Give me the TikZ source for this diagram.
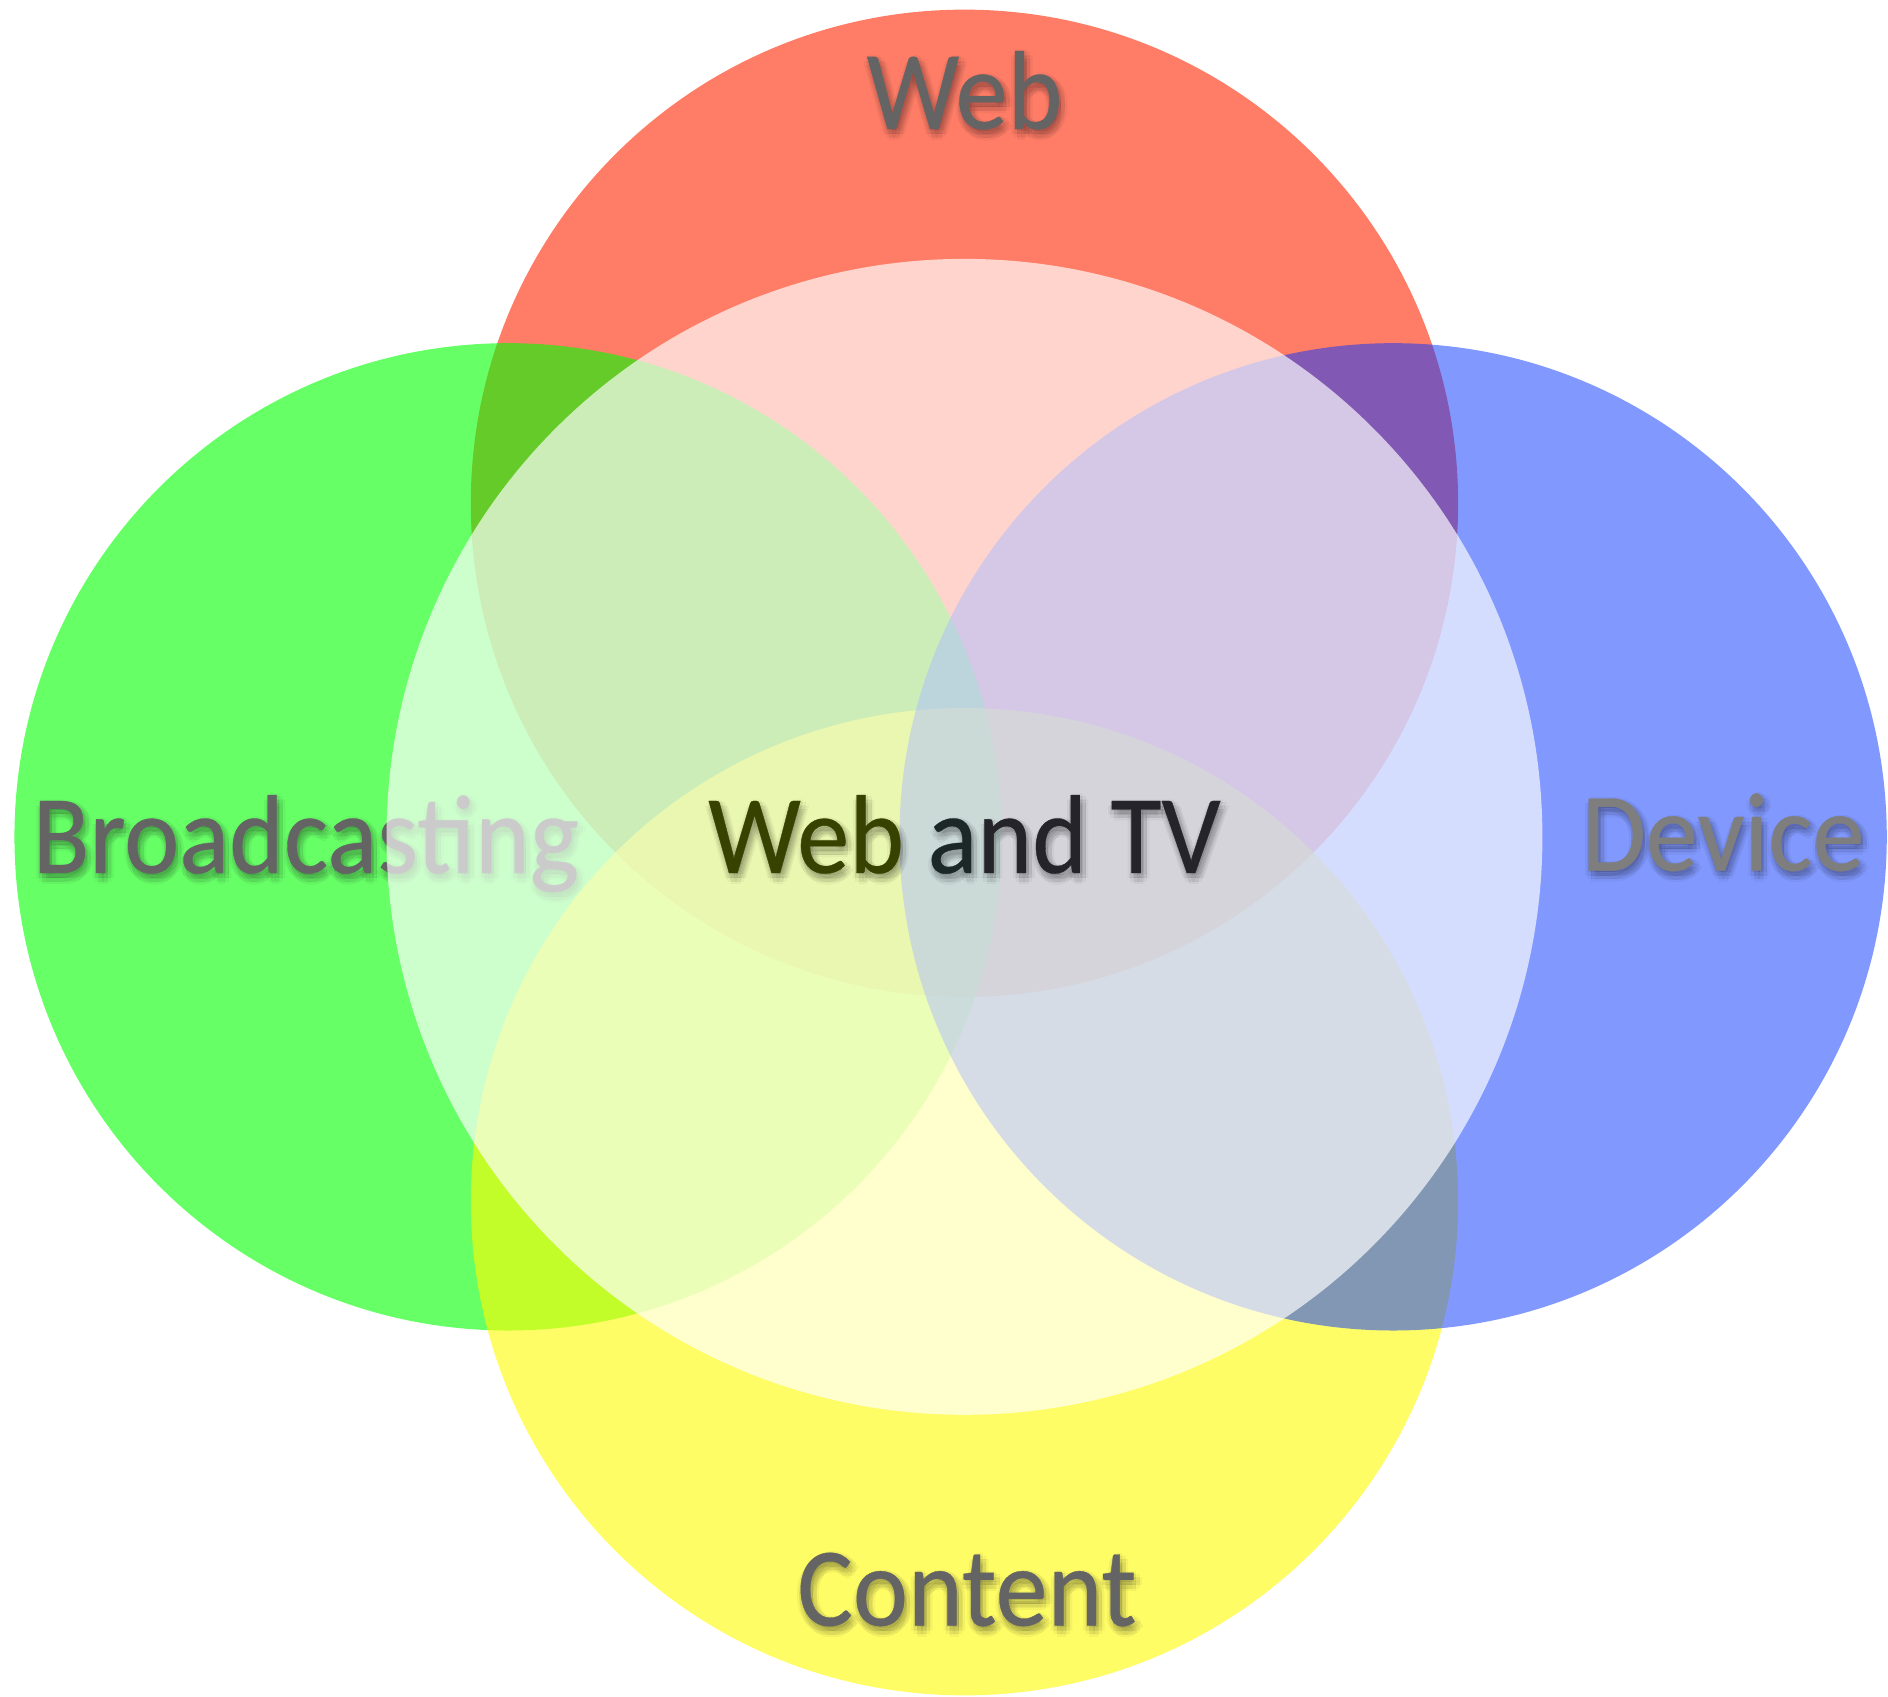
\documentclass[tikz,border=0pt]{standalone}
\usepackage{fontspec}
\newfontfamily\gill[FakeStretch=0.93,FakeBold=0.3]{Carlito}
\definecolor{cRed}{RGB}{255,38,0}
\definecolor{cGreen}{RGB}{0,255,0}
\definecolor{cYellow}{RGB}{255,251,0}
\definecolor{cBlue}{RGB}{4,51,255}
\definecolor{labelgray}{RGB}{100,100,100}
\definecolor{devgray}{RGB}{126,126,126}
\definecolor{olivetext}{RGB}{56,66,0}
\definecolor{tealtext}{RGB}{28,40,40}
\definecolor{darktext}{RGB}{36,36,42}
\tikzset{
  lbl/.style={inner sep=0pt, anchor=base, font=\gill\fontsize{26.5pt}{26.5pt}\selectfont},
  shad/.style={lbl, text=black, text opacity=0.035},
  disc/.style={fill opacity=0.6},
}
\newcommand{\shadowtext}[3]{%
  \foreach \dx/\dy in {-1/1,2/1,5/1,-1/4,2/4,5/4,-1/7,2/7,5/7,2/-1,2/9,-3/4,7/4}{
    \node[shad] at (#1+\dx,#2+\dy) {#3};
  }%
}
\begin{document}
\begin{tikzpicture}[x=0.01cm,y=-0.01cm]
\useasboundingbox (0,0) rectangle (1568,1409);
% coloured circles
\fill[cRed,disc] (801,418) circle[radius=410];
\fill[cGreen,disc] (422,695) circle[radius=410];
\fill[cYellow,disc] (801,998) circle[radius=410];
\fill[cBlue,fill opacity=0.5] (1157,695) circle[radius=410];
% outer labels
\shadowtext{801}{107}{Web}
\node[lbl,text=labelgray] (web) at (801,107) {Web};
\shadowtext{254}{725}{Broadcasting}
\node[lbl,text=labelgray] (broad) at (254,725) {Broadcasting};
\shadowtext{1431}{723}{Device}
\node[lbl,text=devgray] (device) at (1431,723) {Device};
\shadowtext{803}{1350}{Content}
\node[lbl,text=labelgray] (content) at (803,1350) {Content};
% central white circle
\fill[white,fill opacity=0.67] (801,695) circle[radius=480];
% central label
\shadowtext{801}{725}{Web and TV}
\node[lbl] (wtv) at (801,725)
  {\textcolor{olivetext}{Web} \textcolor{tealtext}{a}\textcolor{darktext}{nd TV}};
\end{tikzpicture}
\end{document}
